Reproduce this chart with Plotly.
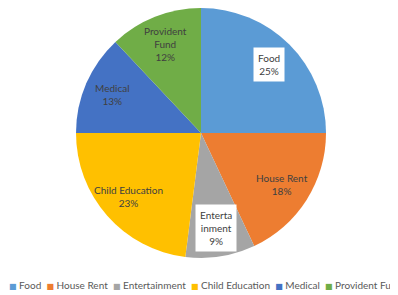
import math
import plotly.graph_objects as go

categories = ["Food", "House Rent", "Entertainment", "Child Education", "Medical", "Provident Fund"]
values = [25, 18, 9, 23, 13, 12]
slice_labels = ["Food", "House Rent", "Enterta<br>inment", "Child Education", "Medical", "Provident<br>Fund"]

colors = ["#5B9BD5", "#ED7D31", "#A5A5A5", "#FFC000", "#4472C4", "#70AD47"]
boxed = {"Food", "Entertainment"}

# page body has an 8px margin; lay out in figure pixels accordingly
OFF = 8
W, H = 398 - OFF, 295 - OFF
R = 125
CX, CY = 201 - OFF, R
LABEL_R = 0.77
FONT = "Lato, 'Open Sans', sans-serif"

fig = go.Figure(go.Pie(
    labels=categories,
    values=values,
    sort=False,
    direction="clockwise",
    rotation=0,
    marker=dict(colors=colors, line=dict(width=0)),
    textinfo="none",
    hoverinfo="label+percent",
    showlegend=False,
    domain=dict(x=[(CX - R) / W, (CX + R) / W], y=[1 - (CY + R) / H, 1.0]),
))

total = sum(values)
annotations = []
cum = 0
for cat, lab, v in zip(categories, slice_labels, values):
    mid = (cum + v / 2) / total
    cum += v
    th = 2 * math.pi * mid
    px = CX + LABEL_R * R * math.sin(th)
    py = CY - LABEL_R * R * math.cos(th)
    pct = round(100 * v / total)
    ann = dict(
        x=px / W, y=1 - py / H, xref="paper", yref="paper",
        text=f"{lab}<br>{pct}%", showarrow=False,
        font=dict(family=FONT, size=10, color="#404040"),
        align="center", xanchor="center", yanchor="middle",
    )
    if cat in boxed:
        ann.update(bgcolor="white", borderpad=4)
    annotations.append(ann)

# legend row as text (cut off at the right edge like the reference)
parts = []
for cat, col in zip(categories, colors):
    parts.append(f"<span style='color:{col};font-family:DejaVu Sans;font-size:8px'>■</span>\u00a0{cat}")
legend_text = "\u00a0\u00a0".join(parts)
annotations.append(dict(
    x=0, y=1 - (285 - OFF) / H, xref="paper", yref="paper",
    xanchor="left", yanchor="middle", showarrow=False, borderpad=0,
    text=legend_text, font=dict(family=FONT, size=10, color="#595959"),
))

fig.update_layout(
    width=W, height=H,
    margin=dict(l=0, r=0, t=0, b=0),
    paper_bgcolor="white",
    plot_bgcolor="white",
    annotations=annotations,
    font=dict(family=FONT),
)

fig.write_html("out.html")
